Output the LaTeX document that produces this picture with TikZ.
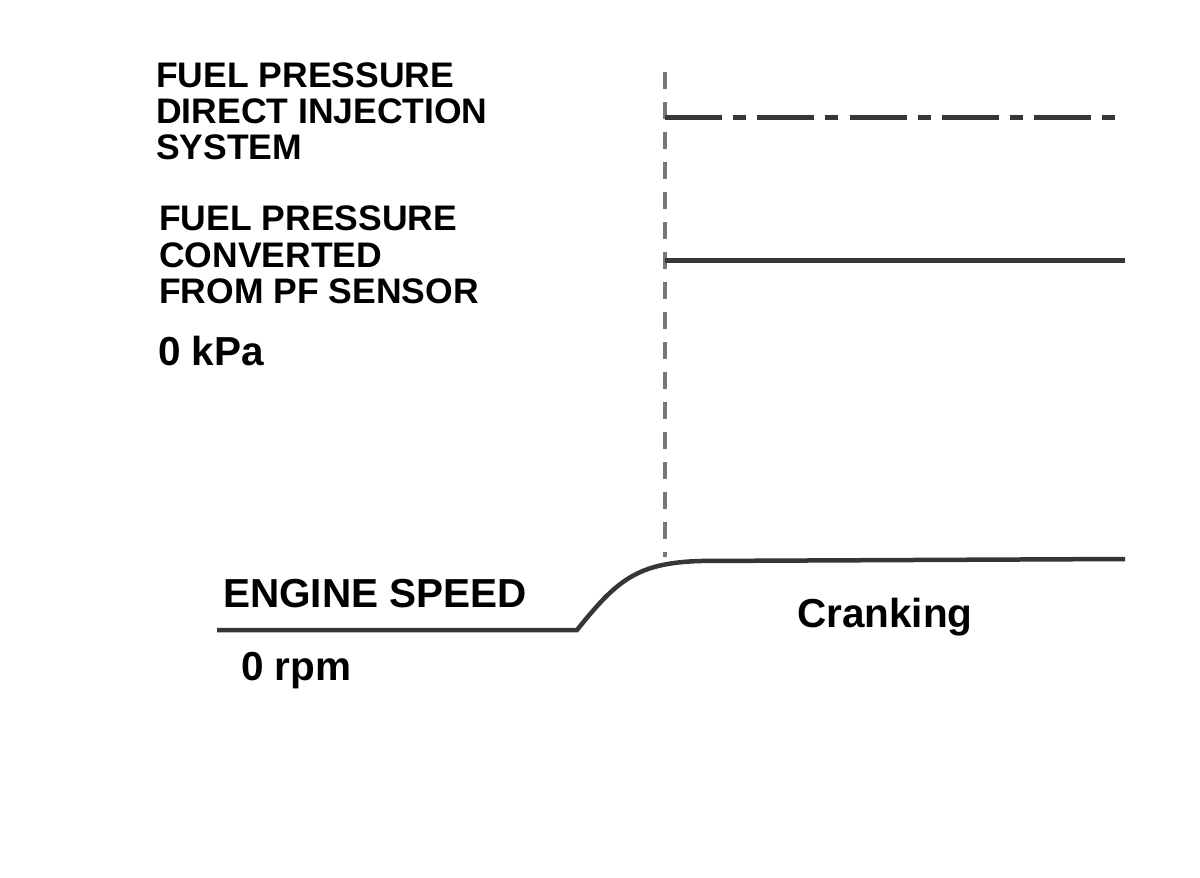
\documentclass[tikz,border=0pt]{standalone}
\usepackage{fontspec}
\setmainfont{Liberation Sans}
\usepackage{tikz}
\usetikzlibrary{positioning,calc}

\definecolor{trace}{HTML}{3B3434}
\definecolor{guide}{HTML}{7A7676}

\tikzset{
    lbl/.style={anchor=base west, inner sep=0pt, font=\fontsize{35.5}{36}\selectfont\bfseries},
    biglbl/.style={anchor=base west, inner sep=0pt, font=\fontsize{40.5}{41}\selectfont\bfseries},
    sig/.style={draw=trace, line width=5pt},
}

\begin{document}
\begin{tikzpicture}[x=1pt, y=-1pt]
    \useasboundingbox (0,0) rectangle (1200,878);

    % Labels
    \node [lbl] (fpdA) at (156,87) {FUEL PRESSURE};
    \node [lbl] (fpdB) at (156,123) {DIRECT INJECTION};
    \node [lbl] (fpdC) at (156,159) {SYSTEM};
    \node [lbl] (fpsA) at (159,230) {FUEL PRESSURE};
    \node [lbl] (fpsB) at (159,267) {CONVERTED};
    \node [lbl] (fpsC) at (159,303) {FROM PF SENSOR};
    \node [biglbl] (kpa) at (158,365) {0 kPa};
    \node [biglbl] (eng) at (223,607) {ENGINE SPEED};
    \node [biglbl] (rpm) at (241,680) {0 rpm};
    \node [biglbl] (crank) at (797,627) {Cranking};

    % Start of cranking
    \coordinate (top) at (665,72);
    \coordinate (bot) at (665,557);
    \draw [guide, line width=4pt, dash pattern=on 17pt off 13pt] (top) -- (bot);

    % Fuel pressure traces
    \draw [sig, dash pattern=on 57pt off 11pt on 13pt off 11.25pt] (665,117) -- (1118,117);
    \draw [sig] (665,260) -- (1125,260);

    % Engine speed
    \draw [sig, line width=4.5pt] (217,630) -- (577,630)
        .. controls (617,580) and (637,563) .. (700,561) -- (1125,559);
\end{tikzpicture}
\end{document}
